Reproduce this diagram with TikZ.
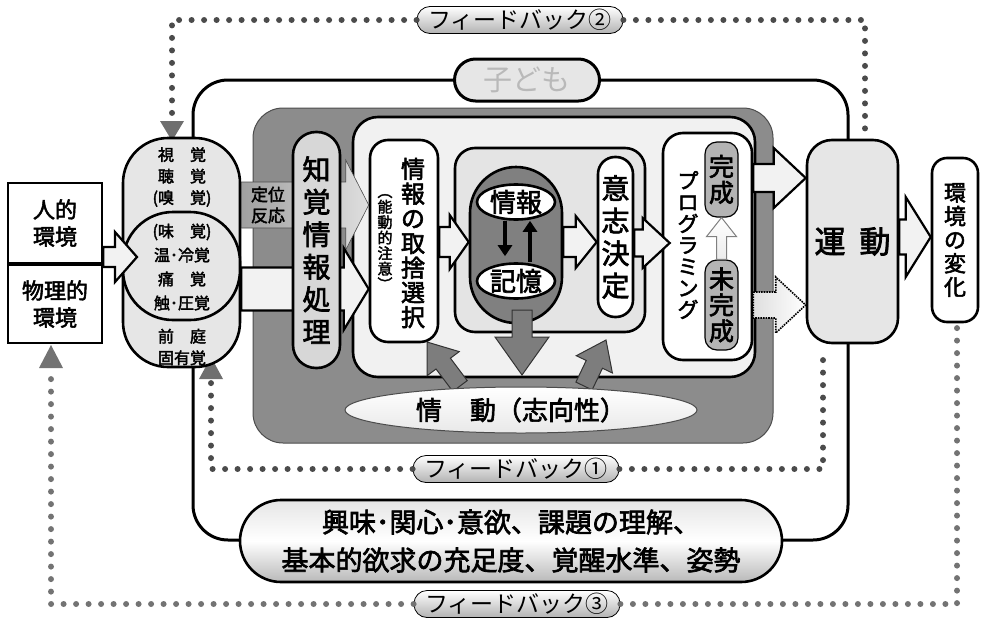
\documentclass[tikz,border=0pt]{standalone}
\usepackage{fontspec}
\setmainfont{Noto Sans CJK JP}[AutoFakeBold=2.4]
\usetikzlibrary{calc,shapes.geometric,arrows.meta}
\definecolor{boxdark}{RGB}{140,140,140}
\definecolor{boxlight}{RGB}{241,241,241}
\definecolor{infogray}{RGB}{228,228,228}
\definecolor{capdark}{RGB}{128,128,128}
\definecolor{senscol}{RGB}{230,230,230}
\definecolor{chikcol}{RGB}{215,215,215}
\definecolor{kancol}{RGB}{180,180,180}
\definecolor{dotA}{RGB}{75,75,75}
\definecolor{dotB}{RGB}{115,115,115}
\definecolor{arrfill}{RGB}{242,242,242}
\definecolor{darrow}{RGB}{125,125,125}
\newcommand{\blk}[6][]{%
  \coordinate (bkC) at ($(#3)!#4pt!(#2)$);
  \draw[#1] ($(#2)!#5pt!90:(#3)$) -- ($(bkC)!#5pt!90:(#3)$) -- ($(bkC)!#6pt!90:(#3)$) -- (#3) -- ($(bkC)!#6pt!-90:(#3)$) -- ($(bkC)!#5pt!-90:(#3)$) -- ($(#2)!#5pt!-90:(#3)$) -- cycle;}
\begin{document}
\begin{tikzpicture}[x=1pt,y=-1pt,
  bx/.style={draw, line width=2.6pt, align=center, inner sep=0pt},
  txt/.style={align=center, inner sep=0pt},
  fbdot/.style={line width=6pt, line cap=round, dash pattern=on 0pt off 12.5pt},
  fblabel/.style={draw, line width=0.8pt, rounded corners=13, top color=white, bottom color=gray!60, minimum width=206, minimum height=27, inner sep=0pt, font=\fontsize{23}{23}\selectfont},
  warr/.style={draw, line width=2.2pt, fill=arrfill},
  darr/.style={draw=black!80, line width=1pt, fill=darrow}]
\useasboundingbox (0,0) rectangle (981,621);

% feedback labels (positions)
\node[fblabel] (fb2) at (520,20) {フィードバック②};
\node[fblabel] (fb1) at (516,469) {フィードバック①};
\node[fblabel] (fb3) at (517,604) {フィードバック③};

% feedback dotted lines
\draw[fbdot, dotA] (fb2.west) -- (172,20) -- (172,118);
\draw[fbdot, dotA] (fb2.east) -- (865,20) -- (865,137);
\fill[dotA!80] (160,121) -- (184,121) -- (172,141) -- cycle;
\draw[fbdot, dotA] (fb1.east) -- (823,469) -- (823,349);
\draw[fbdot, dotA] (fb1.west) -- (211,469) -- (211,382);
\fill[dotA!80] (199,379) -- (223,379) -- (211,357) -- cycle;
\draw[fbdot, dotB] (fb3.east) -- (957,604) -- (957,328);
\draw[fbdot, dotB] (fb3.west) -- (51,604) -- (51,374);
\fill[dotB] (39,368) -- (63,368) -- (51,345) -- cycle;

% child outline
\draw[line width=3pt, rounded corners=35] (193,80) rectangle (848,540);

% environment boxes
\node[bx, fill=white, minimum width=94, minimum height=80, font=\bfseries\fontsize{22}{27}\selectfont] (hito) at (55,223) {人的\\環境};
\node[bx, fill=white, minimum width=94, minimum height=78, font=\bfseries\fontsize{22}{27}\selectfont] (butsuri) at (55,304) {物理的\\環境};

% senses
\node[bx, fill=senscol, rounded corners=45, minimum width=117, minimum height=229] (kankaku) at (181.5,252.5) {};
\node[bx, fill=senscol, rounded corners=50, minimum width=117, minimum height=108] (hifu) at (181.5,266) {};
\node[txt, font=\bfseries\fontsize{16}{21.5}\selectfont] (s1) at (182,177) {視　覚\\聴　覚\\(嗅　覚)};
\node[txt, font=\bfseries\fontsize{16}{24}\selectfont] (s2) at (182,267) {(味　覚)\\温･冷覚\\痛　覚\\触･圧覚};
\node[txt, font=\bfseries\fontsize{16}{21.5}\selectfont] (s3) at (182,347) {前　庭\\固有覚};

% arrow environment -> senses
\coordinate (a1s) at (hito.east |- 0,257);
\coordinate (a1t) at (137,257);
\blk[warr]{a1s}{a1t}{22}{10}{25}

% cognitive dark box and processing box
\node[draw=black!70, line width=1pt, fill=boxdark, rounded corners=30, minimum width=520, minimum height=335] (ninchi) at (513,275.5) {};
\node[bx, fill=boxlight, rounded corners=25, minimum width=402, minimum height=260] (shori) at (554,247) {};

% select box
\node[bx, fill=white, rounded corners=18, minimum width=68, minimum height=202] (shusha) at (404,241) {};
\node[txt, font=\bfseries\fontsize{24}{24.7}\selectfont] (shushaT) at (413,243) {情\\報\\の\\取\\捨\\選\\択};
\node[txt, font=\bfseries\fontsize{15}{15.5}\selectfont] (noudou) at (385,242) {︵\\能\\動\\的\\注\\意\\︶};

% orienting reaction and white arrow
\coordinate (a2s) at (kankaku.east |- 0,205);
\coordinate (a2t) at (shusha.west |- 0,205);
\blk[draw=gray!60!black, line width=0.6pt, left color=gray!75, right color=gray!25]{a2s}{a2t}{23}{23}{45}
\node[txt, font=\bfseries\fontsize{17}{21}\selectfont] (teii) at (268,205) {定位\\反応};
\coordinate (a3s) at (kankaku.east |- 0,289);
\coordinate (a3t) at (shusha.west |- 0,289);
\blk[warr]{a3s}{a3t}{25}{21.5}{41}

% perception capsule
\node[bx, fill=chikcol, rounded corners=23, minimum width=47, minimum height=236, font=\bfseries\fontsize{28}{32.5}\selectfont] (chikaku) at (316.5,250) {知\\覚\\情\\報\\処\\理};

% info / memory
\node[bx, fill=infogray, rounded corners=20, minimum width=190, minimum height=184] (infobox) at (550,240) {};
\node[bx, fill=capdark, rounded corners=46, minimum width=92, minimum height=156] (memcap) at (516,245) {};
\node[ellipse, draw, line width=2.6pt, fill=white, minimum width=78, minimum height=35, inner sep=0pt, font=\bfseries\fontsize{26}{26}\selectfont] (joho) at (516,202) {情報};
\node[ellipse, draw, line width=2.6pt, fill=white, minimum width=78, minimum height=35, inner sep=0pt, font=\bfseries\fontsize{26}{26}\selectfont] (kioku) at (516,281) {記憶};
\draw[line width=3.2pt, -{Triangle[length=11pt,width=14pt]}, shorten >=6pt] ([xshift=-11pt]joho.south) -- ([xshift=-11pt]kioku.north);
\draw[line width=3.2pt, -{Triangle[length=11pt,width=14pt]}] ([xshift=14pt]kioku.north) -- ([xshift=14pt]joho.south);

\coordinate (a4s) at (shusha.east |- 0,242);
\coordinate (a4t) at (memcap.west |- 0,242);
\blk[warr]{a4s}{a4t}{19}{15}{27}

% decision
\node[bx, fill=white, rounded corners=17, minimum width=35, minimum height=160, font=\bfseries\fontsize{28}{32.5}\selectfont] (ishi) at (615.5,237) {意\\志\\決\\定};
\coordinate (a5s) at (memcap.east |- 0,242);
\coordinate (a5t) at (ishi.west |- 0,242);
\blk[warr]{a5s}{a5t}{21}{15}{26}

% programming
\node[bx, fill=white, rounded corners=20, minimum width=89, minimum height=227] (prog) at (707.5,246.5) {};
\node[txt, font=\bfseries\fontsize{21}{21.5}\selectfont] (progT) at (688,245) {プ\\ロ\\グ\\ラ\\ミ\\ン\\グ};
\node[draw, line width=1.2pt, fill=kancol, rounded corners=12, minimum width=33, minimum height=75, txt, font=\bfseries\fontsize{25}{26}\selectfont] (kansei) at (721.5,179.5) {完\\成};
\node[draw, line width=1.2pt, fill=kancol, rounded corners=12, minimum width=33, minimum height=90, txt, font=\bfseries\fontsize{25}{26}\selectfont] (mikansei) at (721.5,305) {未\\完\\成};
\blk[draw=gray, line width=1pt, top color=white, bottom color=gray!15]{mikansei.north}{kansei.south}{19}{5}{15}

\coordinate (a6s) at (ishi.east |- 0,243);
\coordinate (a6t) at ($(prog.west |- 0,243)+(8,0)$);
\blk[warr]{a6s}{a6t}{27}{13.5}{25}

% emotion arrows and ellipse
\coordinate (a12s) at (460,386);
\coordinate (a12t) at (427,342);
\blk[darr]{a12s}{a12t}{27}{9}{20}
\coordinate (a13s) at (584,386);
\coordinate (a13t) at (606,340);
\blk[darr]{a13s}{a13t}{27}{9}{20}
\coordinate (a11s) at (522,310);
\coordinate (a11t) at (522,375);
\blk[darr]{a11s}{a11t}{38}{10}{27}
\node[ellipse, draw=black!70, line width=1pt, top color=white, bottom color=gray!18, minimum width=352, minimum height=46, inner sep=0pt, font=\bfseries\fontsize{26}{26}\selectfont] (jodo) at (521,410) {情\hspace{28pt}動（志向性）};

% movement
\node[bx, fill=senscol, rounded corners=25, minimum width=91, minimum height=203, font=\bfseries\fontsize{31}{31}\selectfont] (undo) at (852.5,241.5) {運\hspace{14pt}動};
\coordinate (a7s) at (prog.east |- 0,178);
\coordinate (a7t) at (undo.west |- 0,178);
\blk[warr]{a7s}{a7t}{32}{14}{30}
\coordinate (a8s) at (prog.east |- 0,305);
\coordinate (a8t) at (undo.west |- 0,305);
\blk[draw, densely dotted, line width=1.6pt, left color=gray!25, right color=white]{a8s}{a8t}{30}{13}{28}

% environment change
\node[bx, fill=white, rounded corners=15, minimum width=46, minimum height=164, font=\bfseries\fontsize{22}{23.6}\selectfont] (kankyo) at (955,240) {環\\境\\の\\変\\化};
\coordinate (a9s) at (undo.east |- 0,237);
\coordinate (a9t) at (kankyo.west |- 0,237);
\blk[warr]{a9s}{a9t}{25}{17.5}{40}

% bottom capsule
\node[draw, line width=2.6pt, rounded corners=41, minimum width=542, minimum height=82, top color=gray!20, bottom color=gray!55, middle color=white, txt, font=\bfseries\fontsize{27}{38}\selectfont] (kyomi) at (511,541) {興味･関心･意欲、課題の理解、\\基本的欲求の充足度、覚醒水準、姿勢};

% child label
\node[draw, line width=3pt, fill=senscol, rounded corners=21, minimum width=145, minimum height=42, inner sep=0pt, text=gray!55, font=\fontsize{29}{29}\selectfont] (kodomo) at (527,80) {子ども};
\end{tikzpicture}
\end{document}
